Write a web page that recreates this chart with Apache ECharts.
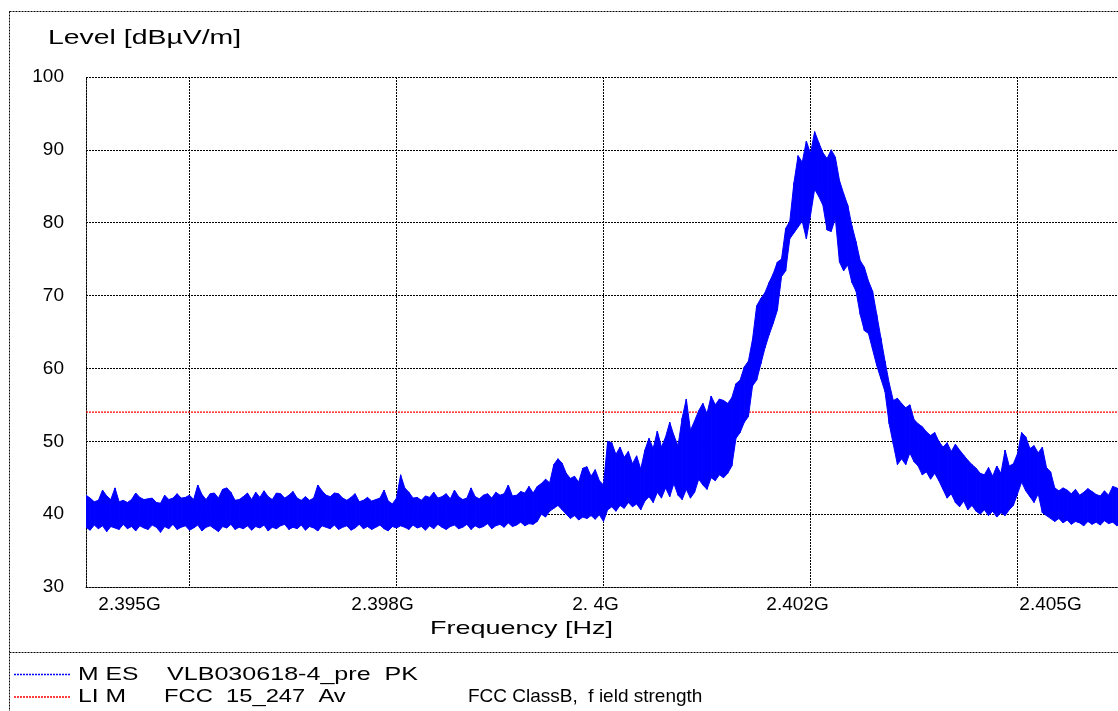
<!DOCTYPE html>
<html>
<head>
<meta charset="utf-8">
<title>Level vs Frequency</title>
<script src="https://cdn.jsdelivr.net/npm/echarts@6/dist/echarts.min.js"></script>
<style>
  html, body { margin: 0; padding: 0; background: #ffffff; }
  #chart { width: 1118px; height: 711px; }
</style>
</head>
<body>
<div id="chart"></div>
<script>
// ---- Sweep definition (MHz) ----
const sweepStartMHz = 2393.75;
const sweepStepMHz = 0.05;
const sweepStopMHz = 2406.25;

// ---- MES trace (peak detector): upper / lower envelope per sweep point, dBµV/m ----
const traceUpper = [
  42.6, 42.2, 41.7, 41.9, 43.3, 42.5, 42.0, 43.6, 41.7, 41.9,
  41.6, 42.0, 42.9, 42.3, 42.0, 42.1, 42.2, 41.6, 41.5, 42.6,
  42.0, 42.2, 42.8, 42.2, 42.3, 42.6, 42.0, 44.0, 42.7, 42.0,
  42.8, 42.9, 42.2, 43.4, 43.6, 43.0, 41.9, 42.0, 42.4, 42.9,
  42.0, 43.0, 42.3, 43.2, 42.4, 42.0, 42.9, 42.8, 42.2, 42.6,
  43.1, 42.2, 41.9, 42.4, 41.9, 42.2, 44.0, 43.2, 42.6, 42.4,
  42.9, 42.8, 42.2, 41.9, 42.3, 42.8, 41.7, 41.9, 42.3, 41.8,
  42.0, 42.2, 43.3, 41.8, 41.4, 42.2, 45.4, 43.6, 43.0, 42.2,
  42.3, 41.9, 42.5, 42.3, 43.0, 42.2, 42.4, 42.8, 42.1, 43.3,
  42.4, 42.0, 42.2, 43.6, 42.4, 42.1, 42.6, 42.8, 42.2, 43.0,
  42.6, 42.8, 44.0, 42.5, 42.6, 43.1, 42.9, 43.8, 42.9, 43.8,
  44.2, 44.8, 44.3, 46.8, 47.6, 47.0, 45.6, 44.9, 45.2, 44.4,
  46.3, 46.5, 45.2, 46.1, 44.6, 44.0, 50.0, 49.8, 48.2, 49.2,
  47.8, 48.6, 46.9, 48.0, 46.2, 48.8, 50.4, 49.0, 51.4, 49.2,
  50.6, 52.6, 50.8, 49.4, 53.2, 55.8, 51.5, 52.8, 54.2, 55.2,
  53.8, 56.2, 55.0, 55.8, 55.6, 55.2, 56.0, 57.9, 58.4, 60.2,
  61.0, 64.0, 68.6, 69.6, 70.4, 71.8, 73.0, 74.6, 75.0, 79.2,
  80.2, 85.5, 89.2, 88.3, 91.2, 89.5, 92.5, 91.0, 89.6, 88.8,
  90.0, 89.0, 85.8, 84.0, 82.4, 79.6, 77.4, 74.8, 73.9, 72.0,
  70.6, 67.4, 64.2, 61.0, 58.0, 55.6, 55.9, 55.2, 54.6, 55.0,
  53.0, 52.4, 52.0, 51.3, 50.8, 51.2, 50.0, 49.2, 49.8, 48.6,
  49.6, 48.8, 48.1, 47.4, 46.8, 46.3, 45.6, 45.4, 46.4, 45.2,
  46.6, 45.6, 48.8, 46.6, 46.9, 48.3, 51.2, 50.6, 49.0, 49.4,
  48.4, 49.2, 46.4, 45.8, 43.6, 43.2, 43.6, 43.3, 42.8, 43.4,
  42.6, 43.0, 43.5, 43.1, 42.7, 42.5, 43.2, 42.6, 43.8, 43.6,
  43.0
];
const traceLower = [
  38.2, 37.8, 38.5, 38.0, 38.4, 37.6, 38.3, 38.1, 37.9, 38.6,
  38.0, 38.3, 37.7, 38.4, 38.1, 37.9, 38.5, 38.2, 37.5, 38.3,
  38.0, 38.6, 37.9, 38.2, 38.4, 37.8, 38.1, 38.5, 37.7, 38.2,
  38.4, 38.0, 37.6, 38.3, 38.1, 38.6, 37.9, 38.2, 38.0, 38.4,
  37.8, 38.3, 38.1, 38.5, 37.7, 38.2, 38.0, 38.4, 38.6, 37.9,
  38.2, 38.0, 38.5, 37.8, 38.3, 38.1, 37.7, 38.4, 38.2, 38.0,
  38.5, 37.9, 38.2, 38.4, 37.8, 38.1, 38.6, 38.0, 38.3, 37.9,
  38.2, 38.5, 38.0, 37.7, 38.3, 38.1, 38.4, 38.2, 37.9, 38.5,
  38.1, 38.3, 37.8, 38.4, 38.0, 38.6, 38.2, 37.9, 38.3, 38.5,
  38.0, 38.2, 38.6, 37.9, 38.4, 38.1, 38.3, 38.7, 38.0, 38.4,
  38.6, 38.2, 38.8, 38.3, 38.5, 38.9, 38.4, 38.7, 38.6, 39.0,
  40.0, 39.6, 40.4, 40.8, 41.2, 40.6, 40.0, 39.4, 39.8, 39.2,
  39.6, 39.4, 39.8, 39.3, 39.9, 39.0, 40.6, 41.0, 40.4, 41.2,
  40.8, 41.6, 41.0, 41.4, 40.6, 41.8, 42.4, 41.6, 43.0, 42.2,
  43.6, 42.4, 44.2, 42.6, 42.0, 43.4, 42.2, 43.0, 44.8, 44.0,
  43.4, 45.0, 44.6, 45.4, 45.0, 45.6, 46.6, 50.4, 51.2, 52.6,
  53.4, 57.6, 58.4, 60.6, 62.8, 64.6, 66.2, 68.0, 72.6, 73.4,
  77.8, 78.6, 79.4, 80.2, 77.8, 81.0, 84.6, 83.6, 82.4, 79.0,
  78.8, 80.6, 74.6, 73.4, 74.2, 71.8, 70.6, 67.4, 65.2, 64.8,
  62.6, 60.4, 58.6, 56.8, 52.4, 49.6, 46.8, 47.6, 46.8, 48.4,
  47.2, 46.6, 45.4, 45.8, 44.8, 45.6, 44.6, 43.4, 42.2, 42.8,
  41.6, 41.0, 41.8, 40.6, 41.2, 40.4, 40.0, 40.6, 39.8, 40.4,
  39.6, 40.2, 39.8, 40.6, 41.2, 42.8, 44.4, 43.2, 42.4, 41.6,
  42.8, 40.2, 39.8, 39.4, 39.0, 39.4, 38.8, 39.2, 38.6, 39.0,
  38.8, 38.4, 39.0, 38.6, 38.9, 38.5, 39.1, 38.7, 38.9, 38.4,
  38.8
];

// ---- LIM line: FCC 15.247 average limit, dBµV/m ----
const limitLevel = 54;

// ---- Axes ----
const freqTicks = [2395, 2397.5, 2400, 2402.5, 2405];
const freqTickLabels = ['2.395G', '2.398G', '2. 4G', '2.402G', '2.405G'];
const levelMin = 30;
const levelMax = 100;
const levelStep = 10;

// ---- Text ----
const levelAxisTitle = 'Level [dBµV/m]';
const freqAxisTitle = 'Frequency [Hz]';
const legendRows = [
  { color: '#0000ff', tag: 'M ES', name: 'VLB030618-4_pre  PK', note: '' },
  { color: '#ff0000', tag: 'LI M', name: 'FCC  15_247  Av', note: 'FCC ClassB,  f ield strength' }
];

// ---- Styling ----
const BLUE = '#0000ff';
const RED = '#ff0000';
const FONT_FAMILY = '"Liberation Sans", Arial, Helvetica, sans-serif';
const DOTTED = [2, 1];
// horizontal nudge (px) of each frequency label relative to its grid line
const freqLabelShift = [-60, -14, -8, -13, 33];

const sweepFreqs = traceUpper.map((_, i) => +(sweepStartMHz + i * sweepStepMHz).toFixed(3));
// one item per sweep point: [frequency, upper, lower]
const traceItems = sweepFreqs.map((f, i) => [f, traceUpper[i], traceLower[i]]);

// The trace is drawn as the filled region between the envelopes,
// one quadrilateral per sweep step, positioned through the axes.
function renderTraceStep(params, api) {
  const i = params.dataIndex;
  if (i >= traceItems.length - 1) return null;
  const next = traceItems[i + 1];
  const f0 = api.value(0), hi0 = api.value(1), lo0 = api.value(2);
  const pts = [
    api.coord([f0, hi0]),
    api.coord([next[0], next[1]]),
    api.coord([next[0], next[2]]),
    api.coord([f0, lo0])
  ];
  return {
    type: 'polygon',
    shape: { points: pts },
    style: { fill: BLUE, stroke: BLUE, lineWidth: 1, lineJoin: 'miter' }
  };
}

const freqRich = {};
freqLabelShift.forEach((s, k) => {
  freqRich['t' + k] = {
    fontSize: 19,
    fontFamily: FONT_FAMILY,
    color: '#000',
    padding: s < 0 ? [0, -2 * s, 0, 0] : [0, 0, 0, 2 * s]
  };
});

function textEl(x, y, text, size, stretch) {
  return {
    type: 'text',
    x: x,
    y: y,
    scaleX: stretch,
    silent: true,
    style: {
      text: text,
      font: size + 'px ' + FONT_FAMILY,
      fill: '#000',
      textAlign: 'left',
      textVerticalAlign: 'middle'
    }
  };
}

const graphics = [
  // outer frame and legend separator
  { type: 'rect', silent: true, shape: { x: 9.5, y: 11.5, width: 1200, height: 760 },
    style: { fill: 'none', stroke: '#000', lineWidth: 1, lineDash: DOTTED } },
  { type: 'line', silent: true, shape: { x1: 9.5, y1: 652.5, x2: 1118, y2: 652.5 },
    style: { stroke: '#000', lineWidth: 1, lineDash: DOTTED } },
  textEl(48, 38.5, levelAxisTitle, 20, 1.42),
  textEl(430, 629, freqAxisTitle, 19, 1.42)
];
legendRows.forEach((row, r) => {
  const y = 674.5 + r * 22.5;
  graphics.push({ type: 'line', silent: true, shape: { x1: 14, y1: y, x2: 70, y2: y },
    style: { stroke: row.color, lineWidth: 1.5, lineDash: DOTTED } });
  graphics.push(textEl(78, y, row.tag, 19, 1.3));
  graphics.push(textEl(r === 0 ? 167 : 164, y, row.name, 19, r === 0 ? 1.32 : 1.25));
  if (row.note) graphics.push(textEl(468, y, row.note, 19, 1.0));
});

const chart = echarts.init(document.getElementById('chart'), null, { renderer: 'canvas' });
chart.setOption({
  animation: false,
  backgroundColor: '#ffffff',
  grid: { left: 86, right: -3, top: 77, bottom: 124, containLabel: false, outerBoundsMode: 'none' },
  xAxis: {
    type: 'value',
    min: sweepStartMHz,
    max: sweepStopMHz,
    axisLine: { show: true, onZero: false, lineStyle: { color: '#000', width: 1, type: DOTTED } },
    axisTick: { show: false, customValues: freqTicks },
    splitLine: { show: true, lineStyle: { color: '#000', width: 1, type: DOTTED } },
    axisLabel: {
      show: true,
      customValues: freqTicks,
      margin: 8,
      fontSize: 19,
      fontFamily: FONT_FAMILY,
      color: '#000',
      formatter: function (v) {
        const k = freqTicks.findIndex(t => Math.abs(t - v) < 1e-6);
        return k < 0 ? '' : '{t' + k + '|' + freqTickLabels[k] + '}';
      },
      rich: freqRich
    }
  },
  yAxis: {
    type: 'value',
    min: levelMin,
    max: levelMax,
    interval: levelStep,
    axisLine: { show: true, onZero: false, lineStyle: { color: '#000', width: 1, type: DOTTED } },
    axisTick: { show: false },
    splitLine: { show: true, lineStyle: { color: '#000', width: 1, type: DOTTED } },
    axisLabel: { margin: 22, fontSize: 19, fontFamily: FONT_FAMILY, color: '#000' }
  },
  series: [
    {
      name: 'LIM',
      type: 'line',
      data: [[sweepStartMHz, limitLevel], [sweepStopMHz, limitLevel]],
      showSymbol: false,
      symbol: 'none',
      silent: true,
      z: 2,
      lineStyle: { color: RED, width: 1.2, type: DOTTED }
    },
    {
      name: 'MES',
      type: 'custom',
      coordinateSystem: 'cartesian2d',
      data: traceItems,
      encode: { x: 0, y: [1, 2] },
      renderItem: renderTraceStep,
      clip: true,
      silent: true,
      z: 3
    }
  ],
  graphic: { elements: graphics }
});
</script>
</body>
</html>
